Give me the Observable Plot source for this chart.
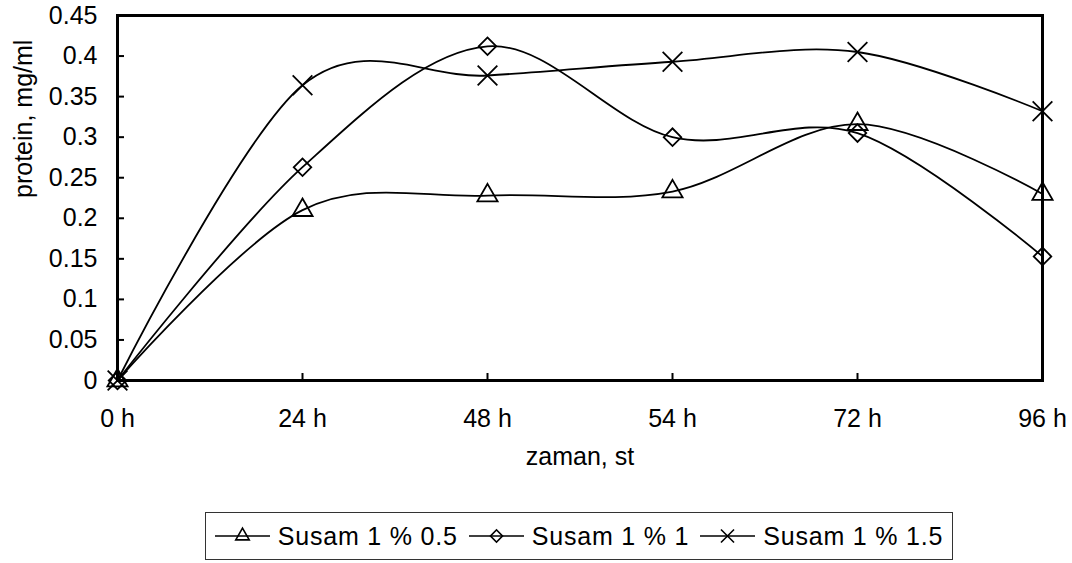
<!DOCTYPE html>
<html>
<head>
<meta charset="utf-8">
<script src="https://cdn.jsdelivr.net/npm/d3@7"></script>
<script src="https://cdn.jsdelivr.net/npm/@observablehq/plot@0.6"></script>
<style>
  html, body { margin: 0; padding: 0; background: #fff; }
  body { width: 1072px; height: 563px; position: relative; overflow: hidden; font-family: "Liberation Sans", Arial, sans-serif; }
  #chart { position: absolute; left: 0; top: 0; }
  #legend { position: absolute; left: 205px; top: 512px; width: 746px; height: 46px; border: 1px solid #333;
            display: flex; align-items: center; justify-content: center; font-size: 25px; letter-spacing: 0.8px; color: #000; }
  .item { display: flex; align-items: center; margin: 0 11px 0 0; }
  .item:last-child { margin-right: 0; }
  .item svg { margin-right: 8px; }
</style>
</head>
<body>
<div id="chart"></div>
<div id="legend"></div>
<script>
const times = ["0 h", "24 h", "48 h", "54 h", "72 h", "96 h"];
const seriesNames = ["Susam 1 % 0.5", "Susam 1 % 1", "Susam 1 % 1.5"];
const s05 = [0, 0.210, 0.228, 0.233, 0.316, 0.230];
const s10 = [0, 0.263, 0.412, 0.300, 0.305, 0.153];
const s15 = [0, 0.364, 0.376, 0.393, 0.405, 0.332];
const yTicks = [0, 0.05, 0.1, 0.15, 0.2, 0.25, 0.3, 0.35, 0.4, 0.45];

const symbols = ["triangle", "square", "times"];
const rotates = [0, 45, 0];
const radii = [7.5, 7, 9];
const legendRadii = [5, 4.8, 6];
const allValues = [s05, s10, s15];
const rows = [];
allValues.forEach((vals, i) => vals.forEach((v, j) => rows.push({series: seriesNames[i], k: i, time: times[j], value: v})));

const mL = 117, mR = 30, mT = 15, mB = 120;
const W = 1072, H = 500;
const plotH = H - mT - mB, plotW = W - mL - mR;

const marks = [
  Plot.frame({stroke: "#000", strokeWidth: 3}),
  Plot.tickY(yTicks, {y: d => d, stroke: "#000", strokeWidth: 2, insetRight: plotW - 7}),
  Plot.tickX(times, {x: d => d, stroke: "#000", strokeWidth: 2, insetTop: plotH - 7}),
  Plot.line(rows, {x: "time", y: "value", z: "series", stroke: "#000", strokeWidth: 1.8, curve: "cardinal", tension: 0}),
];
[0, 1, 2].forEach(k => {
  marks.push(Plot.dot(rows.filter(r => r.k === k), {x: "time", y: "value", symbol: () => symbols[k], r: radii[k], rotate: rotates[k], fill: "none", stroke: "#000", strokeWidth: 1.8}));
});
marks.push(
  Plot.axisY(yTicks, {tickSize: 0, tickPadding: 20, tickFormat: d => String(+d.toFixed(2)), fontSize: 25, fill: "#000", label: null}),
  Plot.axisX(times, {tickSize: 0, tickPadding: 29, fontSize: 25, fill: "#000", label: null}),
  Plot.text(["protein, mg/ml"], {frameAnchor: "left", dx: -94, rotate: -90, fontSize: 25, fill: "#000"}),
  Plot.text(["zaman, st"], {frameAnchor: "bottom", dy: 84, fontSize: 25, fill: "#000"})
);

const chart = Plot.plot({
  width: W, height: H,
  marginLeft: mL, marginRight: mR, marginTop: mT, marginBottom: mB,
  style: {fontFamily: "'Liberation Sans', Arial, sans-serif", background: "#fff", color: "#000", overflow: "visible"},
  x: {type: "point", domain: times, padding: 0},
  y: {domain: [0, 0.45]},
  symbol: {domain: ["triangle", "square", "times"], range: ["triangle", "square", "times"]},
  marks
});
document.getElementById("chart").appendChild(chart);

// legend
const legend = document.getElementById("legend");
const symbolTypes = {triangle: d3.symbolTriangle, square: d3.symbolSquare, times: d3.symbolTimes};
seriesNames.forEach((name, k) => {
  const item = document.createElement("div");
  item.className = "item";
  const svg = d3.create("svg").attr("width", 55).attr("height", 30);
  svg.append("line").attr("x1", 0).attr("x2", 55).attr("y1", 15).attr("y2", 15).attr("stroke", "#000").attr("stroke-width", 1.6);
  const path = d3.symbol(symbolTypes[symbols[k]], Math.PI * legendRadii[k] * legendRadii[k])();
  svg.append("path").attr("d", path).attr("transform", `translate(27.5,15) rotate(${rotates[k]})`)
     .attr("fill", "none").attr("stroke", "#000").attr("stroke-width", 1.6);
  item.appendChild(svg.node());
  const span = document.createElement("span");
  span.textContent = name;
  item.appendChild(span);
  legend.appendChild(item);
});
</script>
</body>
</html>
